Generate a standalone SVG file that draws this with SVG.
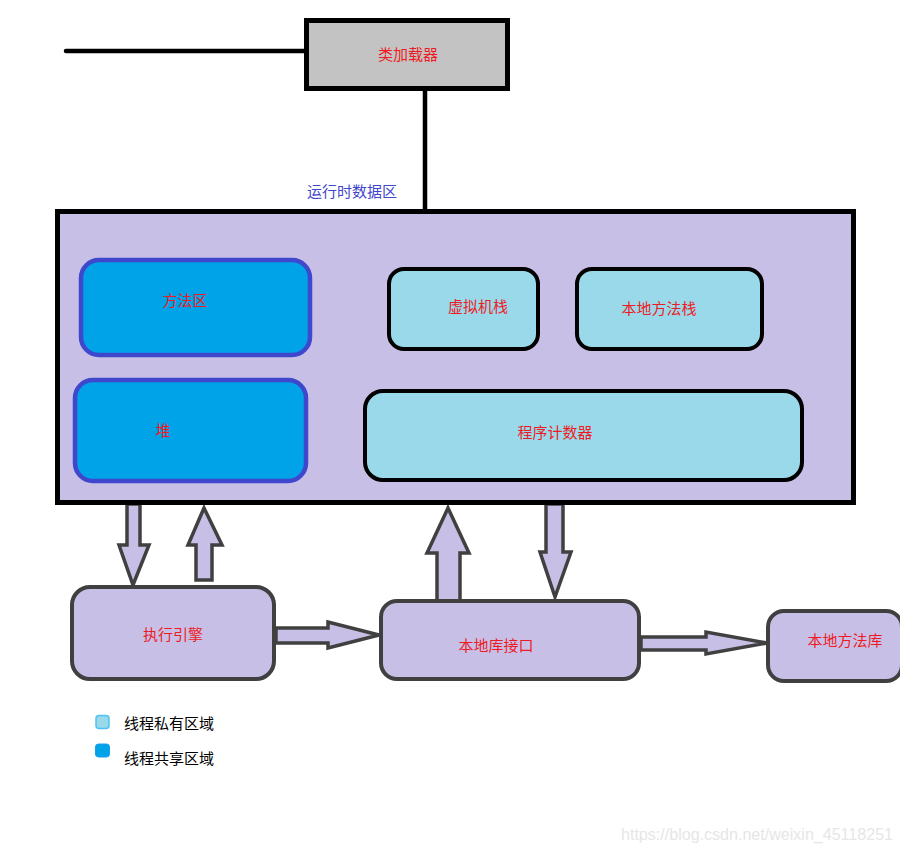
<svg xmlns="http://www.w3.org/2000/svg" width="900" height="853" viewBox="0 0 900 853">
<style>
text{font-family:"Noto Sans CJK SC","Liberation Sans",sans-serif;font-size:15px}
.r{fill:#ed1c24;text-anchor:middle}
.sh{fill:#00a2e8;stroke:#3f48cc;stroke-width:4.5}
.pv{fill:#99d9ea;stroke:#000;stroke-width:4}
.ex{fill:#c8bfe7;stroke:#404040;stroke-width:4}
.ar{fill:#c8bfe7;stroke:#404040;stroke-width:3.5;stroke-linejoin:miter}
.ln{stroke:#000;stroke-width:4.5;stroke-linecap:round;fill:none}
</style>
<rect width="900" height="853" fill="#fff"/>
<g id="connectors">
<line class="ln" x1="66" y1="51" x2="307" y2="51"/>
<line class="ln" x1="425" y1="91" x2="425" y2="212"/>
<polygon class="ar" points="127,504 140,504 140,545 149,545 133,585 119,545 127,545"/>
<polygon class="ar" points="204,508 222,545 212,545 212,580 196,580 196,545 188,545"/>
<polygon class="ar" points="448,508 469,553 460,553 460,601 437,601 437,553 427,553"/>
<polygon class="ar" points="546,504 563,504 563,552 571,552 555,597 540,552 546,552"/>
<polygon class="ar" points="276,628 328,628 328,622 379,635 328,648 328,643 276,643"/>
<polygon class="ar" points="641,637 706,637 706,632 767,643 706,654 706,650 641,650"/>
</g>
<g id="classloader">
<rect x="306.5" y="20.5" width="201" height="68" fill="#c3c3c3" stroke="#000" stroke-width="5"/>
<text class="r" x="408" y="60">类加载器</text>
</g>
<g id="runtime">
<text x="307" y="197" fill="#3f48cc">运行时数据区</text>
<rect x="57.5" y="211.5" width="796" height="291" fill="#c8bfe7" stroke="#000" stroke-width="5"/>
</g>
<g id="method">
<rect class="sh" x="81" y="260" width="229" height="95" rx="18"/>
<text class="r" x="185" y="306">方法区</text>
</g>
<g id="heap">
<rect class="sh" x="75" y="380" width="231" height="101" rx="18"/>
<text class="r" x="163" y="436">堆</text>
</g>
<g id="vmstack">
<rect class="pv" x="389" y="269" width="149" height="80" rx="15"/>
<text class="r" x="478" y="312">虚拟机栈</text>
</g>
<g id="nativestack">
<rect class="pv" x="577" y="269" width="185" height="80" rx="15"/>
<text class="r" x="659" y="314">本地方法栈</text>
</g>
<g id="pc">
<rect class="pv" x="365" y="391" width="437" height="89" rx="18"/>
<text class="r" x="555" y="438">程序计数器</text>
</g>
<g id="engine">
<rect class="ex" x="72" y="587" width="202" height="92" rx="18"/>
<text class="r" x="173" y="640">执行引擎</text>
</g>
<g id="nativeif">
<rect class="ex" x="381" y="601" width="258" height="78" rx="16"/>
<text class="r" x="496" y="651">本地库接口</text>
</g>
<g id="nativelib">
<rect class="ex" x="768" y="611" width="134" height="70" rx="16"/>
<text class="r" x="845" y="646">本地方法库</text>
</g>
<g id="legend">
<rect x="96" y="715.5" width="13" height="13" rx="3" fill="#99d9ea" stroke="#4dc3f0" stroke-width="1.5"/>
<text x="124" y="729" fill="#000">线程私有区域</text>
<rect x="95.5" y="744" width="14" height="13" rx="3" fill="#00a2e8" stroke="#1aa0f0" stroke-width="1"/>
<text x="124" y="764" fill="#000">线程共享区域</text>
</g>
<text x="621" y="840" fill="#e6e6e6" textLength="272" lengthAdjust="spacingAndGlyphs" style="font-family:'Liberation Sans',sans-serif;font-size:16px">https://blog.csdn.net/weixin_45118251</text>
</svg>
